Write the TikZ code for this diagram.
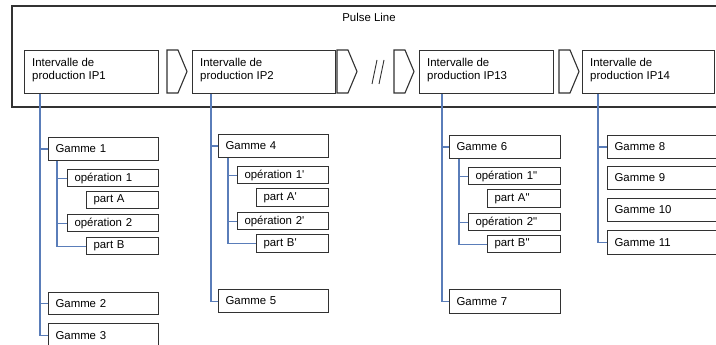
\documentclass[tikz,border=0pt]{standalone}
\usepackage{fontspec}
\setmainfont{Liberation Sans}
\usetikzlibrary{calc}

\definecolor{boxline}{RGB}{50,50,50}
\definecolor{linkblue}{RGB}{90,125,185}

\tikzset{
  lbl/.style={font=\fontsize{11.4}{13}\selectfont},
  tb/.style={lbl, draw=boxline, line width=1.1pt, fill=white, anchor=north west,
    inner xsep=7pt, inner ysep=0pt, align=left},
  ipbox/.style={draw=boxline, line width=1.1pt, fill=white, anchor=north west,
    inner sep=0pt},
  iptext/.style={lbl, anchor=north west, inner sep=0pt, align=left},
  link/.style={draw=linkblue, line width=1.1pt},
  chev/.style={draw=boxline, line width=1.1pt, fill=white, line join=miter},
}

% text box: name, x1, y1, x2, y2, text
\newcommand\tbox[6]{%
  \pgfmathsetmacro\bw{#4-#2}%
  \pgfmathsetmacro\bh{#5-#3}%
  \pgfmathsetmacro\tw{#4-#2-14}%
  \node[tb, minimum width=\bw pt, minimum height=\bh pt, text width=\tw pt]
    (#1) at (#2,#3) {#6};}

% production interval box: name, x1, x2, second line
\newcommand\ipbox[4]{%
  \pgfmathsetmacro\bw{#3-#2}%
  \node[ipbox, minimum width=\bw pt, minimum height=43pt] (#1) at (#2,50) {};
  \node[iptext] (#1t) at ($(#1.north west)+(8,8)$) {Intervalle de\\production #4};}

% chevron: left x, top-right x, tip x
\newcommand\chevron[3]{%
  \draw[chev] (#1,50) -- (#2,50) -- (#3,71.5) -- (#2,93) -- (#1,93) -- cycle;}

\newcommand\sq{\textquotesingle}
\newcommand\dq{\textquotedbl}

\begin{document}
\begin{tikzpicture}[x=1pt, y=-1pt]
\useasboundingbox (0,0) rectangle (716,345);
\fill[white] (0,0) rectangle (716,345);
\clip (0,0) rectangle (716,345);

% pulse line frame
\draw[draw=boxline, line width=1.1pt] (12,6) rectangle (740,107);
\node[lbl, inner sep=0pt] (title) at (369,17) {Pulse Line};

% production intervals and flow chevrons
\ipbox{ip1}{24}{158}{IP1}
\chevron{167}{178}{187}
\ipbox{ip2}{192}{335}{IP2}
\chevron{337}{348}{357}
\draw[draw=boxline, line width=0.9pt] (377,60) -- (372,84);
\draw[draw=boxline, line width=0.9pt] (384,60) -- (379,84);
\chevron{394}{405}{414}
\ipbox{ip13}{419}{553}{IP13}
\chevron{559}{570}{579}
\ipbox{ip14}{582}{714}{IP14}

% trunk and sub-trunk x positions
\coordinate (t1) at (40,0);  \coordinate (s1) at (57,0);
\coordinate (t2) at (211,0); \coordinate (s2) at (228,0);
\coordinate (t3) at (442,0); \coordinate (s3) at (459,0);
\coordinate (t4) at (598,0);

% IP1
\tbox{g1}{48}{137}{158}{160}{Gamme 1}
\tbox{op1}{67}{169}{158}{186}{opération 1}
\tbox{pa}{86}{191}{158}{208}{part A}
\tbox{op2}{67}{214}{158}{231}{opération 2}
\tbox{pb}{86}{237}{158}{254}{part B}
\tbox{g2}{48}{292}{158}{314}{Gamme 2}
\tbox{g3}{48}{323}{158}{347}{Gamme 3}

% IP2
\tbox{g4}{218}{134}{328}{157}{Gamme 4}
\tbox{op1b}{237}{166}{328}{183}{opération 1\sq}
\tbox{pab}{256}{188}{328}{206}{part A\sq}
\tbox{op2b}{237}{212}{328}{229}{opération 2\sq}
\tbox{pbb}{256}{234}{328}{252}{part B\sq}
\tbox{g5}{218}{289}{328}{312}{Gamme 5}

% IP13
\tbox{g6}{449}{135}{560}{158}{Gamme 6}
\tbox{op1c}{468}{167}{560}{184}{opération 1\dq}
\tbox{pac}{487}{189}{560}{207}{part A\dq}
\tbox{op2c}{468}{213}{560}{230}{opération 2\dq}
\tbox{pbc}{487}{235}{560}{252}{part B\dq}
\tbox{g7}{449}{289}{560}{313}{Gamme 7}

% IP14
\tbox{g8}{607}{135}{735}{158}{Gamme 8}
\tbox{g9}{607}{166}{735}{189}{Gamme 9}
\tbox{g10}{607}{198}{735}{221}{Gamme 10}
\tbox{g11}{607}{230}{735}{254}{Gamme 11}

% connectors
\draw[link] (t1 |- ip1.south) |- (g3.west);
\draw[link] (t1 |- g1.west) -- (g1.west);
\draw[link] (t1 |- g2.west) -- (g2.west);
\draw[link] (s1 |- g1.south) |- (pb.west);
\draw[link] (s1 |- op1.west) -- (op1.west);
\draw[link] (s1 |- op2.west) -- (op2.west);

\draw[link] (t2 |- ip2.south) |- (g5.west);
\draw[link] (t2 |- g4.west) -- (g4.west);
\draw[link] (s2 |- g4.south) |- (pbb.west);
\draw[link] (s2 |- op1b.west) -- (op1b.west);
\draw[link] (s2 |- op2b.west) -- (op2b.west);

\draw[link] (t3 |- ip13.south) |- (g7.west);
\draw[link] (t3 |- g6.west) -- (g6.west);
\draw[link] (s3 |- g6.south) |- (pbc.west);
\draw[link] (s3 |- op1c.west) -- (op1c.west);
\draw[link] (s3 |- op2c.west) -- (op2c.west);

\draw[link] (t4 |- ip14.south) |- (g11.west);
\draw[link] (t4 |- g8.west) -- (g8.west);
\end{tikzpicture}
\end{document}
